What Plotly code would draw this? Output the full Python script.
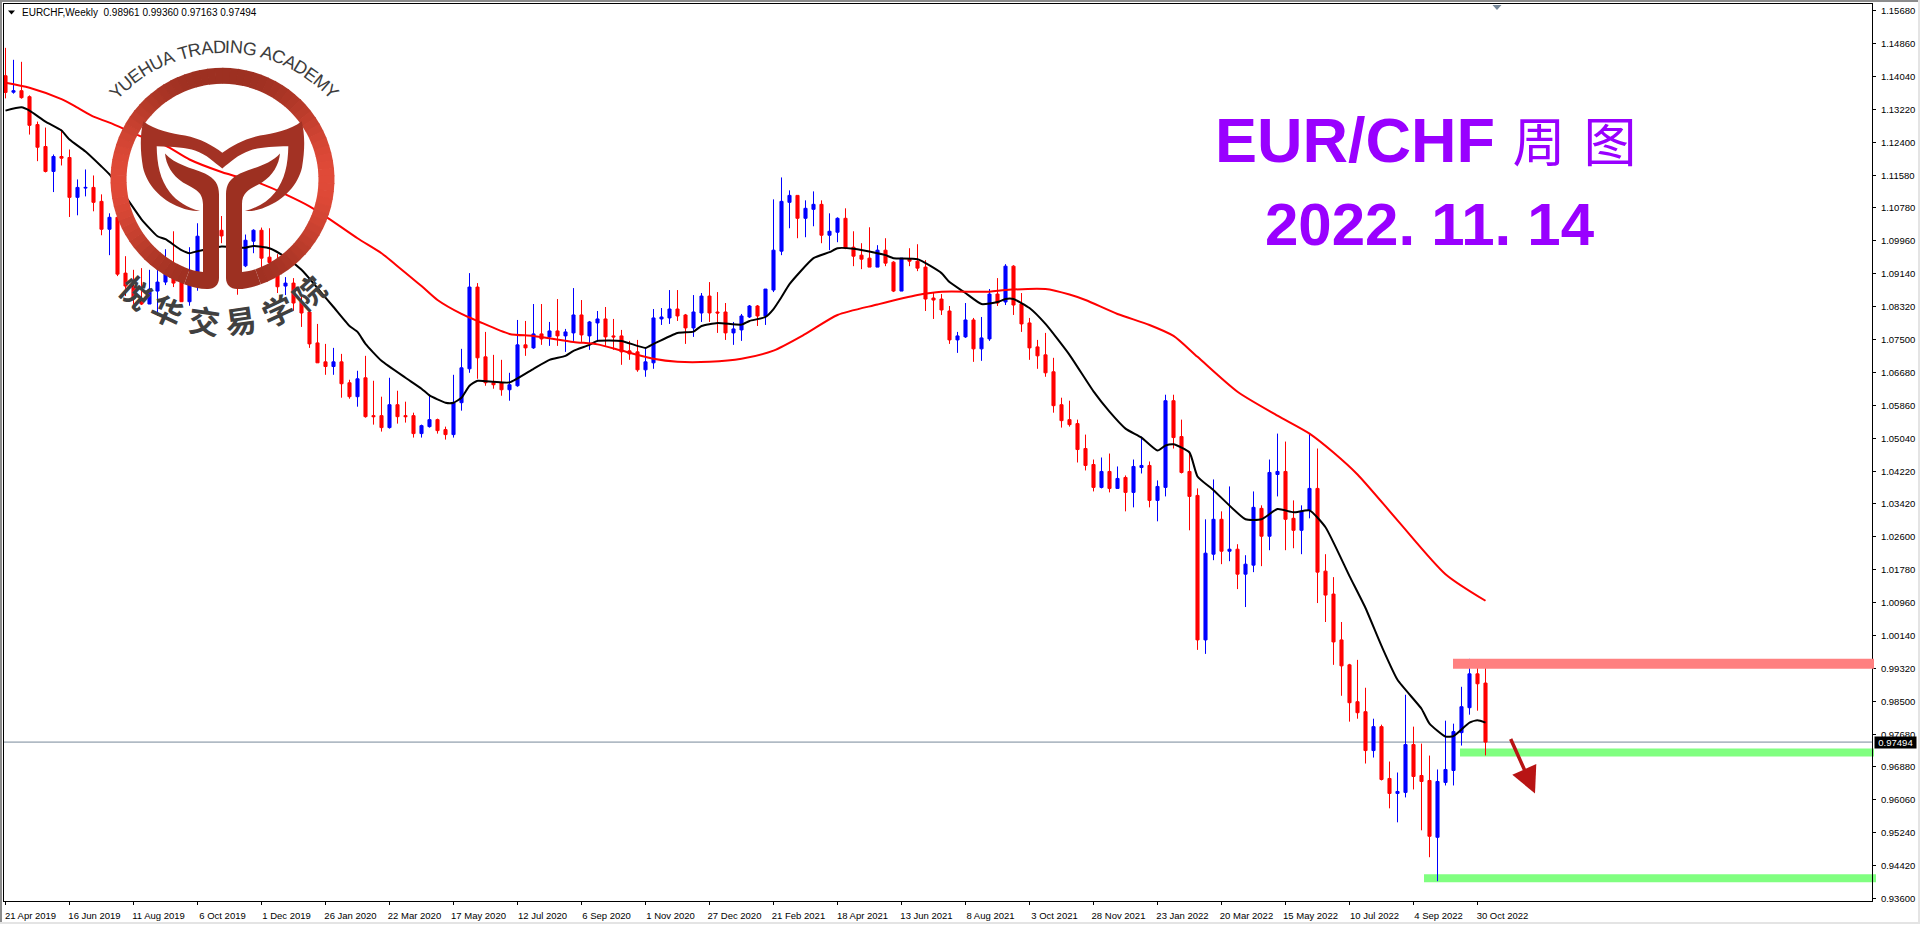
import math
import re
import plotly.graph_objects as go

W, H = 1920, 927

open_ = [1.14052,1.13644,1.13681,1.13532,1.12839,1.12294,1.11675,1.12046,1.12021,1.11031,
1.11261,1.11278,1.10931,1.10238,1.10535,1.09148,1.08826,1.08504,1.08380,1.08702,
1.08925,1.09123,1.08925,1.08437,1.09173,1.10065,1.09743,1.10213,1.09743,1.09842,
1.09329,1.09941,1.10213,1.09544,1.09205,1.08826,1.08900,1.08430,1.08182,1.07414,
1.06943,1.06827,1.06943,1.06423,1.06077,1.06547,1.05606,1.05606,1.05309,1.05878,
1.05606,1.05606,1.05160,1.05333,1.05507,1.05259,1.05135,1.05928,1.06770,1.08801,
1.07067,1.06423,1.06423,1.06250,1.06349,1.07365,1.07290,1.07637,1.07563,1.07711,
1.07588,1.07662,1.08108,1.07588,1.07910,1.08009,1.07588,1.07588,1.07216,1.07191,
1.06745,1.06919,1.08009,1.08034,1.08256,1.08108,1.07786,1.08157,1.08578,1.08182,
1.08182,1.07662,1.07736,1.08058,1.08331,1.08083,1.08727,1.09693,1.10907,1.11080,
1.10510,1.10733,1.10857,1.10089,1.10164,1.10510,1.09792,1.09594,1.09520,1.09297,
1.09718,1.09421,1.08702,1.09495,1.09445,1.09297,1.08529,1.08504,1.08207,1.07488,
1.07563,1.07984,1.07266,1.07513,1.08628,1.08430,1.09321,1.08380,1.07910,1.07315,
1.07117,1.06696,1.05878,1.05507,1.05408,1.04789,1.04392,1.03823,1.04219,1.03798,
1.04070,1.03699,1.04318,1.04368,1.03500,1.03823,1.05977,1.05086,1.04219,1.03624,
1.00033,1.02163,1.03030,1.02237,1.02287,1.01667,1.01891,1.03302,1.02609,1.04144,
1.04219,1.03055,1.02757,1.03253,1.03798,1.01742,1.01172,1.00033,0.99413,0.98497,
0.98249,0.97283,0.97878,0.96590,0.96218,0.96243,0.97432,0.96664,0.96540,0.95128,
0.96491,0.96788,0.97729,0.98348,0.99190,0.98961]

high = [1.14746,1.14449,1.14399,1.13565,1.12913,1.12765,1.12096,1.12715,1.12220,1.11476,
1.11724,1.11575,1.11105,1.10634,1.10733,1.09569,1.09230,1.09272,1.09230,1.09222,
1.09743,1.10188,1.09197,1.09792,1.10387,1.10362,1.10238,1.10567,1.10114,1.09990,
1.10107,1.10238,1.10280,1.10263,1.09619,1.09049,1.09024,1.08603,1.08232,1.07885,
1.07389,1.07290,1.07141,1.06498,1.06721,1.07092,1.06473,1.06077,1.06547,1.06225,
1.05953,1.05680,1.05383,1.06126,1.05532,1.05333,1.06621,1.07266,1.09148,1.08900,
1.07687,1.07117,1.06993,1.06671,1.07984,1.07959,1.08380,1.08380,1.07934,1.08504,
1.07761,1.08776,1.08479,1.07959,1.08207,1.08306,1.08009,1.07736,1.07464,1.07488,
1.07266,1.08256,1.08281,1.08727,1.08727,1.08133,1.08603,1.08653,1.08925,1.08677,
1.08405,1.07934,1.08133,1.08355,1.08355,1.08752,1.10981,1.11526,1.11204,1.11080,
1.10956,1.11179,1.10956,1.10634,1.10535,1.10758,1.10188,1.09891,1.10287,1.09842,
1.10015,1.09445,1.09520,1.09767,1.09866,1.09470,1.08677,1.08628,1.08331,1.07687,
1.08405,1.08034,1.08058,1.08752,1.09024,1.09371,1.09346,1.08653,1.08034,1.07488,
1.07662,1.07043,1.06052,1.05977,1.05507,1.05135,1.04516,1.04566,1.04665,1.04343,
1.04120,1.04516,1.05086,1.04467,1.03996,1.06126,1.06126,1.05507,1.04714,1.03798,
1.03030,1.04021,1.03228,1.03847,1.02411,1.02138,1.03723,1.03377,1.04516,1.05160,
1.04962,1.03500,1.03377,1.05160,1.04789,1.02163,1.01593,1.00478,0.99438,0.99537,
0.98844,0.98075,0.97927,0.97011,0.96738,0.98670,0.97878,0.97456,0.97159,0.96813,
0.98026,0.97952,0.98868,0.99562,0.99413,0.99360]

low = [1.13490,1.13607,1.13483,1.12591,1.11930,1.11650,1.11162,1.11823,1.10543,1.10585,
1.11055,1.10684,1.10089,1.09594,1.09074,1.08578,1.08331,1.08355,1.08380,1.08090,
1.08851,1.08801,1.08430,1.08338,1.08710,1.09619,1.09544,1.09891,1.09445,1.08611,
1.09297,1.09643,1.09289,1.09222,1.08653,1.08603,1.08214,1.07811,1.07290,1.06919,
1.06621,1.06621,1.06052,1.06027,1.05829,1.05556,1.05383,1.05210,1.05284,1.05408,
1.05433,1.05061,1.05061,1.05309,1.05160,1.05011,1.05061,1.05730,1.06671,1.06522,
1.06349,1.06275,1.06101,1.05977,1.06324,1.07092,1.07266,1.07365,1.07340,1.07340,
1.07191,1.07464,1.07439,1.07241,1.07439,1.07340,1.07241,1.06869,1.06993,1.06696,
1.06572,1.06770,1.07860,1.07885,1.07959,1.07389,1.07563,1.07934,1.07934,1.07662,
1.07488,1.07365,1.07464,1.08034,1.07835,1.07860,1.08677,1.09594,1.10263,1.10015,
1.10040,1.10312,1.09891,1.09718,1.09916,1.09743,1.09321,1.09247,1.09297,1.09297,
1.09321,1.08677,1.08702,1.09321,1.09197,1.08207,1.08009,1.08108,1.07389,1.07166,
1.07538,1.06943,1.06968,1.07464,1.08331,1.08355,1.08108,1.07687,1.06993,1.06770,
1.06572,1.05680,1.05309,1.05333,1.04442,1.04244,1.03723,1.03798,1.03699,1.03798,
1.03228,1.03327,1.04169,1.03327,1.02980,1.03599,1.04789,1.04169,1.02757,0.99785,
0.99686,1.02014,1.01915,1.01989,1.01296,1.00850,1.01717,1.01866,1.02262,1.03599,
1.02262,1.02311,1.02163,1.03055,1.00949,1.00478,0.99413,0.98645,0.98002,0.98075,
0.96961,0.97110,0.96540,0.95847,0.95500,0.96119,0.96317,0.95301,0.94633,0.94038,
0.96416,0.96416,0.97407,0.98175,0.98274,0.97163]

close = [1.13639,1.13681,1.13508,1.12821,1.12276,1.11675,1.12046,1.12004,1.11031,1.11278,
1.11278,1.10907,1.10238,1.10535,1.09123,1.08826,1.08504,1.08380,1.08752,1.08925,
1.09123,1.08900,1.08437,1.08925,1.10065,1.09743,1.10040,1.10072,1.09990,1.09445,
1.09965,1.10213,1.09520,1.09413,1.08809,1.08900,1.08405,1.08157,1.07389,1.06919,
1.06827,1.06943,1.06399,1.06077,1.06522,1.05581,1.05581,1.05309,1.05878,1.05581,
1.05581,1.05160,1.05358,1.05507,1.05234,1.05135,1.05928,1.06795,1.08801,1.07043,
1.06423,1.06374,1.06250,1.06374,1.07365,1.07290,1.07637,1.07513,1.07711,1.07588,
1.07687,1.08108,1.07612,1.07934,1.08009,1.07563,1.07563,1.07191,1.07141,1.06745,
1.06943,1.08034,1.08058,1.08256,1.08083,1.07786,1.08182,1.08578,1.08157,1.08157,
1.07662,1.07761,1.08083,1.08331,1.08083,1.08752,1.09718,1.10931,1.11080,1.10510,
1.10758,1.10857,1.10089,1.10188,1.10510,1.09767,1.09569,1.09495,1.09297,1.09718,
1.09396,1.08702,1.09520,1.09445,1.09272,1.08504,1.08479,1.08232,1.07488,1.07588,
1.07984,1.07266,1.07538,1.08628,1.08405,1.09321,1.08355,1.07885,1.07290,1.07092,
1.06671,1.05854,1.05482,1.05383,1.04764,1.04368,1.03823,1.04219,1.03798,1.04045,
1.03699,1.04343,1.04368,1.03500,1.03847,1.05977,1.05061,1.04194,1.03599,1.00033,
1.02188,1.03030,1.02237,1.02287,1.01667,1.01915,1.03327,1.02609,1.04194,1.04219,
1.03030,1.02757,1.03228,1.03798,1.01717,1.01147,0.99983,0.99388,0.98472,0.98224,
0.97283,0.97878,0.96565,0.96218,0.96267,0.97432,0.96639,0.96515,0.95153,0.96515,
0.96813,0.97754,0.98373,0.99190,0.98943,0.97494]

slow_bars = [0,3,7,9,11,13,17,20,23,27,32,35,38,40,44,47,49,52,54,57,59,63,66,71,74,77,81,84,88,92,96,100,104,
             109,114,117,123,125,130,133,135,139,143,146,149,154,159,163,166,169,174,180,185]
slow_ma = [1.13879,1.13755,1.13470,1.13260,1.13037,1.12888,1.12541,1.12319,1.11972,1.11662,1.11365,1.11105,1.10808,
           1.10560,1.10015,1.09643,1.09321,1.08826,1.08479,1.08133,1.07959,1.07637,1.07588,1.07439,1.07377,1.07223,
           1.07018,1.06943,1.06943,1.07018,1.07223,1.07637,1.08108,1.08368,1.08603,1.08685,1.08685,1.08727,1.08752,
           1.08615,1.08479,1.08133,1.07860,1.07588,1.07067,1.06200,1.05606,1.05160,1.04690,1.04144,1.03005,1.01667,1.01006]

fast_bars = [0,2,3,5,7,8,10,12,13,15,17,19,20,22,23,24,27,30,31,33,35,37,39,41,43,44,45,47,50,52,53,55,56,57,58,59,
             61,63,66,68,70,71,73,74,77,80,81,84,86,87,89,92,93,95,96,97,98,101,103,104,106,109,110,111,114,117,118,
             120,122,124,125,126,128,130,133,136,138,140,142,144,145,146,148,149,151,155,157,159,161,163,165,168,170,
             172,174,177,178,180,181,183,184,185]
fast_ma = [1.13186,1.13267,1.13186,1.12913,1.12690,1.12467,1.12170,1.11798,1.11600,1.11055,1.10486,1.10065,1.09990,
           1.09718,1.09643,1.09693,1.09809,1.09780,1.09824,1.09767,1.09544,1.09230,1.08776,1.08306,1.07835,1.07687,
           1.07389,1.06968,1.06547,1.06275,1.06109,1.05928,1.05928,1.06052,1.06349,1.06473,1.06448,1.06431,1.06770,
           1.06993,1.07092,1.07216,1.07365,1.07464,1.07464,1.07290,1.07389,1.07662,1.07695,1.07835,1.07910,1.07868,
           1.07959,1.08058,1.08256,1.08553,1.08875,1.09520,1.09668,1.09767,1.09755,1.09643,1.09594,1.09520,1.09495,
           1.09148,1.08925,1.08653,1.08380,1.08430,1.08504,1.08504,1.08281,1.07885,1.07117,1.06208,1.05705,1.05284,
           1.05061,1.04739,1.04863,1.04895,1.04690,1.04095,1.03755,1.03030,1.03030,1.03285,1.03203,1.03253,1.02832,
           1.01618,1.00825,0.99884,0.99042,0.98323,0.97952,0.97630,0.97642,0.97977,0.98034,0.97977]

date_ticks = ["21 Apr 2019","16 Jun 2019","11 Aug 2019","6 Oct 2019","1 Dec 2019","26 Jan 2020","22 Mar 2020",
              "17 May 2020","12 Jul 2020","6 Sep 2020","1 Nov 2020","27 Dec 2020","21 Feb 2021","18 Apr 2021",
              "13 Jun 2021","8 Aug 2021","3 Oct 2021","28 Nov 2021","23 Jan 2022","20 Mar 2022","15 May 2022",
              "10 Jul 2022","4 Sep 2022","30 Oct 2022"]
price_ticks = ["1.15680","1.14860","1.14040","1.13220","1.12400","1.11580","1.10780","1.09960","1.09140","1.08320",
               "1.07500","1.06680","1.05860","1.05040","1.04220","1.03420","1.02600","1.01780","1.00960","1.00140",
               "0.99320","0.98500","0.97680","0.96880","0.96060","0.95240","0.94420","0.93600"]

last_price = 0.97494
sell_zone = [0.99314, 0.99562]
support_zone = [0.97134, 0.97333]
low_zone = [0.94013, 0.94212]

PURPLE = "#9900ff"
TICK_FONT = dict(family="Liberation Sans", size=9.5, color="black")


def px_x(x):
    return x / W


def px_y(y):
    return 1 - y / H


def to_paper(path):
    # logo outlines are drawn in screen pixels, paper space covers the whole figure
    return re.sub(r"(-?[\d.]+),(-?[\d.]+)",
                  lambda m: f"{px_x(float(m[1])):.5f},{px_y(float(m[2])):.5f}", path)


def mirror(path):
    return re.sub(r"(-?[\d.]+),(-?[\d.]+)", lambda m: f"{445 - float(m[1])},{m[2]}", path)


def logo_shape(path, color):
    return dict(type="path", xref="paper", yref="paper", path=to_paper(path), fillcolor=color,
                line=dict(width=0), layer="above")


def blend(t):
    a, b = (157, 48, 33), (224, 74, 56)
    return "rgb({},{},{})".format(*[round(p + (q - p) * t) for p, q in zip(a, b)])


fig = go.Figure()

fig.add_trace(go.Candlestick(
    x=list(range(len(open_))), open=open_, high=high, low=low, close=close,
    increasing=dict(line=dict(color="#0000ff", width=1), fillcolor="#0000ff"),
    decreasing=dict(line=dict(color="#ff0000", width=1), fillcolor="#ff0000"),
    whiskerwidth=0, showlegend=False, hoverinfo="skip"))
fig.add_trace(go.Scatter(x=fast_bars, y=fast_ma, mode="lines",
                         line=dict(color="black", width=2, shape="spline", smoothing=0.5),
                         showlegend=False, hoverinfo="skip"))
fig.add_trace(go.Scatter(x=slow_bars, y=slow_ma, mode="lines",
                         line=dict(color="#ff0000", width=2, shape="spline", smoothing=0.7),
                         showlegend=False, hoverinfo="skip"))

shapes = [
    # window frame
    dict(type="rect", xref="paper", yref="paper", x0=0, x1=1, y0=px_y(2), y1=1, fillcolor="#8c8c8c", line_width=0),
    dict(type="rect", xref="paper", yref="paper", x0=0, x1=px_x(2), y0=px_y(925), y1=1, fillcolor="#8c8c8c", line_width=0),
    dict(type="rect", xref="paper", yref="paper", x0=0, x1=1, y0=0, y1=px_y(925), fillcolor="#e4e4e4", line_width=0),
    dict(type="rect", xref="paper", yref="paper", x0=px_x(1918), x1=1, y0=0, y1=1, fillcolor="#e4e4e4", line_width=0),
    # last price line and marker
    dict(type="line", xref="paper", yref="y", x0=px_x(4), x1=px_x(1872), y0=last_price, y1=last_price,
         line=dict(color="#778899", width=1), layer="below"),
    dict(type="path", xref="paper", yref="paper", path=to_paper("M1492.5,5 L1501.5,5 L1497,10 Z"),
         fillcolor="#778899", line_width=0),
    # header triangle
    dict(type="path", xref="paper", yref="paper", path=to_paper("M8,10.5 L15,10.5 L11.5,14.5 Z"),
         fillcolor="black", line_width=0),
    # zones
    dict(type="rect", xref="paper", yref="y", x0=px_x(1453), x1=px_x(1874), y0=sell_zone[0], y1=sell_zone[1],
         fillcolor="#ff8080", line_width=0, layer="above"),
    dict(type="rect", xref="paper", yref="y", x0=px_x(1460), x1=px_x(1874), y0=support_zone[0], y1=support_zone[1],
         fillcolor="#80ff80", line_width=0, layer="below"),
    dict(type="rect", xref="paper", yref="y", x0=px_x(1424), x1=px_x(1876), y0=low_zone[0], y1=low_zone[1],
         fillcolor="#80ff80", line_width=0, layer="below"),
]

# logo ring, split into small sectors so the colour can run from the centre to the edges
cx, cy, r_out, r_in = 222.5, 180, 112, 96
for deg in range(-160, 160, 4):
    a0, a1 = math.radians(deg), math.radians(min(deg + 4.4, 160))
    pts = [(cx + r_out * math.sin(a0), cy - r_out * math.cos(a0)),
           (cx + r_out * math.sin(a1), cy - r_out * math.cos(a1)),
           (cx + r_in * math.sin(a1), cy - r_in * math.cos(a1)),
           (cx + r_in * math.sin(a0), cy - r_in * math.cos(a0))]
    path = "M" + " L".join(f"{x:.2f},{y:.2f}" for x, y in pts) + " Z"
    shapes.append(logo_shape(path, blend(abs(math.sin((a0 + a1) / 2)) ** 3)))

wings = ("M143.3,121.7 C155,131 172,134 185,136 C200,139 213,146 222.3,153.3 C232,146 245,139 260,136 "
         "C273,134 290,131 301.7,121.7 C305,135 305,150 302,168 C298,185 285,200 265,208 C258,211 252,212 245,211.7 "
         "C258,208 268,202 275,193 C285,180 288,165 288.3,146.7 C272,147 258,148 250,151 C238,155 230,163 222.3,169 "
         "C214,163 207,155 195,151 C187,148 173,147 156.7,146.7 C157,165 160,180 170,193 C177,202 187,208 200,211.7 "
         "C193,212 187,211 180,208 C160,200 147,185 143,168 C140,150 140,135 143.3,121.7 Z")
leg = ("M184.2,285.2 C192,288 200,290 207,290 C214,290.5 219,286 219,279 L219,195 C219,185 215,179 205,174 "
       "C190,168 175,165 165,154 C166,165 172,176 183,183 C193,189 203,191 203,205 L203,273 "
       "C198,272.5 194,271.5 189.7,270.2 Z")
shapes.append(logo_shape(wings, "#a33224"))
shapes.append(logo_shape(leg, "#9d3021"))
shapes.append(logo_shape(mirror(leg), "#9d3021"))

annotations = [
    dict(x=px_x(20), y=px_y(12.5), text="EURCHF,Weekly  0.98961 0.99360 0.97163 0.97494", xanchor="left",
         font=dict(family="Liberation Sans", size=10, color="black")),
    dict(x=px_x(1435), y=px_y(140),
         text='<b>EUR/CHF</b> <span style="font-size:53px;letter-spacing:18px">周图</span>',
         font=dict(family="Liberation Sans, Noto Sans CJK SC", size=63, color=PURPLE)),
    dict(x=px_x(1430), y=px_y(225),
         text='<b>2022<span style="letter-spacing:16px">.</span>11<span style="letter-spacing:16px">.</span>14</b>',
         font=dict(family="Liberation Sans", size=60, color=PURPLE)),
    dict(x=px_x(1874), y=px_y(744.7), text="0.97494", xanchor="left", width=41, height=11, align="center",
         bgcolor="black", borderpad=0, font=dict(family="Liberation Sans", size=9.5, color="white")),
    # sell arrow
    dict(x=px_x(1535), y=px_y(796), ax=-25, ay=-56, text="", showarrow=True, arrowhead=2, arrowsize=1.5,
         arrowwidth=3.5, arrowcolor="#b81414"),
]

# arc lettering round the logo
latin = "YUEHUA TRADING ACADEMY"
widths = dict(zip("YUEHATRDINGCM ", [.667, .722, .667, .722, .667, .611, .722, .722, .278, .722, .778, .722, .833, .278]))
total = sum(widths[c] for c in latin)
pos = 0
for c in latin:
    pos += widths[c] / 2
    ang = (pos / total - 0.5) * 2 * 48
    pos += widths[c] / 2
    if c != " ":
        annotations.append(dict(
            x=px_x(224 + 150 * math.sin(math.radians(ang))), y=px_y(197 - 150 * math.cos(math.radians(ang))),
            text=c, textangle=ang, font=dict(family="Liberation Sans", size=18, color="#3c3c3c")))

for c, ang, rot in zip("悦华交易学院", [37.5, 22.9, 7.5, -7.5, -22.9, -37.5], [42, 25, 8, -8, -25, -42]):
    annotations.append(dict(
        x=px_x(222.5 - 141 * math.sin(math.radians(ang))), y=px_y(181 + 141 * math.cos(math.radians(ang))),
        text=f"<b>{c}</b>", textangle=rot, font=dict(family="Noto Sans CJK SC", size=31, color="#404040")))

for a in annotations:
    a.setdefault("showarrow", False)
    a.setdefault("xref", "paper")
    a.setdefault("yref", "paper")
    a.setdefault("xanchor", "center")
    a.setdefault("yanchor", "middle")

fig.update_layout(
    width=W, height=H, margin=dict(l=0, r=0, t=0, b=0), paper_bgcolor="white", plot_bgcolor="white",
    showlegend=False, boxgap=0.45, shapes=shapes, annotations=annotations,
    xaxis=dict(domain=[px_x(4), px_x(1872)], range=[-0.1875, 233.3125], rangeslider=dict(visible=False),
               tickvals=[i * 8 for i in range(len(date_ticks))], ticktext=date_ticks, tickangle=0,
               showgrid=False, zeroline=False, showline=True, linecolor="black", linewidth=1, mirror=True,
               ticks="outside", ticklen=3, tickcolor="black", tickwidth=1, tickfont=TICK_FONT,
               ticklabelshift=25, ticklabelstandoff=3),
    yaxis=dict(domain=[px_y(904), px_y(4)], range=[0.93543, 1.15836], side="right",
               tickvals=[float(t) for t in price_ticks], ticktext=price_ticks,
               showgrid=False, zeroline=False, showline=True, linecolor="black", linewidth=1, mirror=True,
               ticks="outside", ticklen=3, tickcolor="black", tickwidth=1, tickfont=TICK_FONT,
               ticklabelstandoff=3),
)

fig.write_html("out.html", config=dict(displayModeBar=False),
               post_script="document.documentElement.style.overflow='hidden';document.documentElement.style.height='927px';"
                           "document.body.style.margin='0';document.body.style.height='927px';document.body.style.overflow='hidden';")
